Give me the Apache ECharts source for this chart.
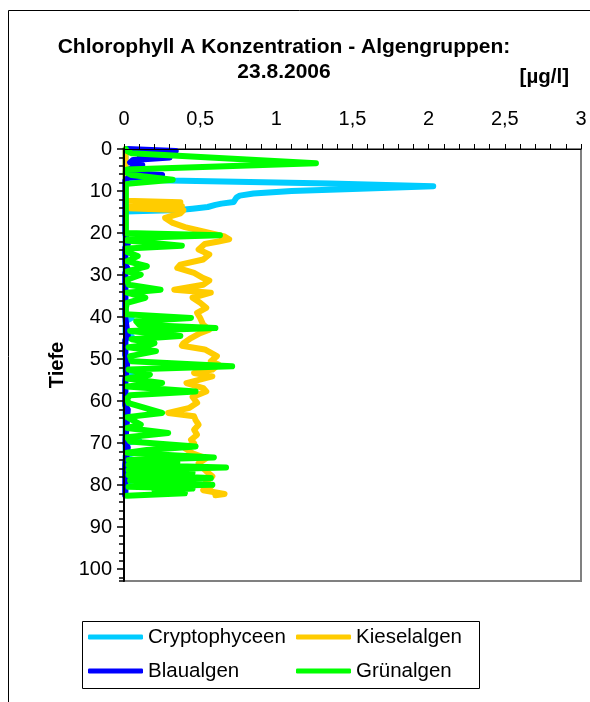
<!DOCTYPE html>
<html>
<head>
<meta charset="utf-8">
<script src="https://cdn.jsdelivr.net/npm/echarts@6/dist/echarts.min.js"></script>
<style>html,body{margin:0;padding:0;background:#fff;}#c{width:590px;height:702px;}</style>
</head>
<body>
<div id="c"></div>
<script>
// ---- Data (depth in m, concentration in µg/l) ----
var seriesNames = ['Cryptophyceen', 'Kieselalgen', 'Blaualgen', 'Grünalgen'];
var xTickLabels = ['0', '0,5', '1', '1,5', '2', '2,5', '3'];
var yTickLabels = ['0', '10', '20', '30', '40', '50', '60', '70', '80', '90', '100'];

var cryptoDepth = [0, 3, 6, 7.0, 7.5, 8.2, 8.85, 9.5, 10.0, 10.6, 11.1, 11.5, 12.0, 12.6, 13.0, 13.3, 13.8, 14.2, 14.5, 14.9, 16, 25, 39.5, 40.2, 41, 44, 44.6, 45.3, 53, 53.6, 54.2, 69, 69.4, 70, 72, 72.4, 73, 78.2, 78.6, 79.2, 82.4];
var cryptoVal   = [0.01, 0.01, 0.01, 0.01, 0.3, 1.35, 2.03, 1.5, 1.1, 0.85, 0.76, 0.74, 0.73, 0.72, 0.64, 0.6, 0.55, 0.45, 0.36, 0.01, 0.01, 0.01, 0.01, 0.05, 0.01, 0.01, 0.05, 0.01, 0.01, 0.06, 0.01, 0.01, 0.1, 0.01, 0.01, 0.06, 0.01, 0.01, 0.1, 0.01, 0.01];

var kieselDepth = [0, 5, 10, 12.3, 12.7, 13.1, 13.6, 14.1, 14.6, 15.3, 16.4, 17.6, 18.6, 19.6, 20.8, 21.5, 22.0, 22.6, 23.9, 25.1, 26.3, 27.5, 28.3, 29.5, 30.7, 31.3, 32.3, 33.5, 34.2, 35.4, 36.6, 37.8, 39.0, 40.2, 41.8, 43.0, 43.8, 45.0, 46.2, 46.8, 47.7, 49.3, 50.5, 51.3, 52.5, 53.3, 54.1, 55.7, 56.9, 57.7, 59.0, 60.4, 61.6, 62.8, 63.6, 64.5, 65.6, 66.8, 68.0, 69.2, 70.0, 71.2, 72.4, 73.6, 74.8, 76.0, 77.0, 77.9, 79.1, 80.3, 81.2, 82.1, 82.4];
var kieselVal   = [0.01, 0.01, 0.01, 0.01, 0.37, 0.03, 0.38, 0.03, 0.39, 0.37, 0.27, 0.32, 0.40, 0.52, 0.66, 0.69, 0.62, 0.53, 0.49, 0.56, 0.52, 0.37, 0.35, 0.46, 0.52, 0.56, 0.52, 0.33, 0.57, 0.45, 0.50, 0.54, 0.48, 0.50, 0.52, 0.56, 0.50, 0.44, 0.39, 0.38, 0.53, 0.61, 0.57, 0.62, 0.58, 0.46, 0.58, 0.41, 0.52, 0.54, 0.45, 0.48, 0.43, 0.29, 0.46, 0.47, 0.49, 0.46, 0.48, 0.44, 0.46, 0.40, 0.45, 0.54, 0.49, 0.52, 0.55, 0.58, 0.54, 0.57, 0.52, 0.66, 0.60];

var blauDepth = [0, 0.5, 1.3, 2.0, 2.6, 3.2, 3.8, 4.4, 5.2, 5.7, 6.2, 6.8, 7.5, 10, 20, 22.6, 23.5, 27.5, 28.5, 29.5, 40, 44.5, 45.5, 49, 50, 55, 61, 62, 70, 71, 75, 80, 82.4];
var blauVal   = [0.02, 0.34, 0.1, 0.30, 0.06, 0.04, 0.12, 0.06, 0.02, 0.04, 0.25, 0.03, 0.008, 0.008, 0.008, 0.025, 0.008, 0.008, 0.025, 0.008, 0.008, 0.025, 0.008, 0.008, 0.025, 0.008, 0.008, 0.025, 0.008, 0.025, 0.008, 0.008, 0.008];

var gruenDepth = [0, 0.5, 1.0, 3.4, 4.9, 5.5, 6.2, 7.3, 8.3, 9, 12, 15, 18, 20.0, 20.5, 21.2, 21.8, 23.0, 23.7, 24.5, 25.5, 26.7, 27.9, 29.1, 29.9, 31.1, 32.3, 33.5, 34.2, 35.4, 36.6, 37.8, 39.3, 40.2, 41.0, 41.8, 42.6, 43.3, 44.5, 45.3, 46.2, 46.6, 47.2, 48.1, 49.3, 50.5, 51.7, 52.5, 53.7, 54.6, 55.7, 56.5, 57.7, 58.6, 59.4, 60.5, 62.8, 63.8, 65.6, 66.4, 67.6, 68.6, 69.6, 70.8, 71.6, 72.3, 73.4, 74.0, 74.6, 75.2, 75.8, 76.4, 77.0, 77.6, 78.3, 78.9, 79.4, 79.9, 80.4, 80.8, 81.3, 81.9, 82.5];
var gruenVal   = [0.012, 0.02, 0.05, 1.26, 0.02, 0.012, 0.05, 0.32, 0.02, 0.012, 0.012, 0.012, 0.012, 0.012, 0.63, 0.03, 0.02, 0.38, 0.02, 0.02, 0.09, 0.02, 0.15, 0.02, 0.11, 0.02, 0.03, 0.24, 0.02, 0.14, 0.02, 0.012, 0.012, 0.44, 0.08, 0.10, 0.60, 0.04, 0.37, 0.05, 0.20, 0.17, 0.03, 0.21, 0.04, 0.05, 0.71, 0.03, 0.17, 0.02, 0.25, 0.02, 0.47, 0.04, 0.02, 0.03, 0.25, 0.02, 0.11, 0.02, 0.29, 0.02, 0.04, 0.47, 0.15, 0.02, 0.59, 0.03, 0.35, 0.03, 0.67, 0.03, 0.45, 0.03, 0.57, 0.04, 0.30, 0.58, 0.03, 0.45, 0.20, 0.40, 0.02];

var seriesColors = ['#00CCFF', '#FFCC00', '#0000FF', '#00FF00'];

function zip(vals, depths) {
  var out = [];
  for (var i = 0; i < vals.length; i++) out.push([vals[i], depths[i]]);
  return out;
}

var FONT = '"Liberation Sans", Arial, sans-serif';
var chart = echarts.init(document.getElementById('c'), null, {renderer: 'canvas'});

var seriesData = [zip(cryptoVal, cryptoDepth), zip(kieselVal, kieselDepth), zip(blauVal, blauDepth), zip(gruenVal, gruenDepth)];
var series = seriesNames.map(function (n, i) {
  return {
    name: n, type: 'line', data: seriesData[i], xAxisIndex: 0, yAxisIndex: 0,
    showSymbol: false, symbol: 'none', smooth: false,
    lineStyle: {color: seriesColors[i], width: 6, cap: 'round', join: 'round'},
    itemStyle: {color: seriesColors[i]},
    emphasis: {disabled: true}, animation: false, z: 2 + i
  };
});

var legendCommon = {
  orient: 'vertical', icon: 'roundRect', itemWidth: 55, itemHeight: 5, itemGap: 10, padding: 0,
  selectedMode: false,
  textStyle: {fontFamily: FONT, fontSize: 20.5, color: '#000', lineHeight: 24}
};

var option = {
  animation: false,
  backgroundColor: '#fff',
  title: [
    {text: 'Chlorophyll A Konzentration - Algengruppen:\n23.8.2006', left: 284, top: 35, textAlign: 'center', padding: 0,
     textStyle: {fontFamily: FONT, fontSize: 21, fontWeight: 'bold', color: '#000', lineHeight: 25}},
    {text: '[µg/l]', right: 21, top: 65, padding: 0,
     textStyle: {fontFamily: FONT, fontSize: 20.5, fontWeight: 'bold', color: '#000', lineHeight: 24}}
  ],
  legend: [
    Object.assign({}, legendCommon, {data: [seriesNames[0], seriesNames[2]], left: 88, top: 625}),
    Object.assign({}, legendCommon, {data: [seriesNames[1], seriesNames[3]], left: 296, top: 625})
  ],
  grid: {left: 124, top: 149, width: 457, height: 432, show: true, borderColor: '#808080', borderWidth: 2, backgroundColor: 'transparent'},
  xAxis: {
    type: 'value', position: 'top', min: 0, max: 3, interval: 0.5, z: 20,
    axisLine: {show: true, lineStyle: {color: '#000', width: 1}},
    axisTick: {show: true, length: 5, lineStyle: {color: '#000'}},
    minorTick: {show: true, splitNumber: 5, length: 5, lineStyle: {color: '#000'}},
    splitLine: {show: false}, minorSplitLine: {show: false},
    axisLabel: {fontFamily: FONT, fontSize: 20, color: '#000', margin: 20,
      formatter: function (v) { return xTickLabels[Math.round(v / 0.5)]; }}
  },
  yAxis: [
    {
      type: 'value', inverse: true, min: 0, max: 102.8, interval: 10, z: 20,
      name: 'Tiefe', nameLocation: 'middle', nameGap: 55, nameRotate: 90,
      nameTextStyle: {fontFamily: FONT, fontSize: 20, fontWeight: 'bold', color: '#000'},
      axisLine: {show: true, lineStyle: {color: '#000', width: 2}},
      axisTick: {show: true, length: 7, lineStyle: {color: '#000', width: 1.5}},
      splitLine: {show: false},
      axisLabel: {fontFamily: FONT, fontSize: 20, color: '#000', margin: 12, showMaxLabel: false,
        formatter: function (v) { var k = Math.round(v / 10); return (Math.abs(v - k * 10) < 1e-6 && yTickLabels[k] !== undefined) ? yTickLabels[k] : ''; }}
    },
    {
      type: 'value', inverse: true, min: 0, max: 102.8, interval: 2, position: 'left', gridIndex: 0, z: 20,
      axisLine: {show: false}, axisLabel: {show: false}, splitLine: {show: false},
      axisTick: {show: true, length: 5, lineStyle: {color: '#000', width: 1.5}}
    }
  ],
  graphic: [
    {type: 'rect', shape: {x: 8.5, y: 10.5, width: 700, height: 800}, style: {fill: 'none', stroke: '#000', lineWidth: 1}, silent: true, z: -10},
    {type: 'rect', shape: {x: 82.5, y: 621.5, width: 397, height: 67}, style: {fill: 'none', stroke: '#000', lineWidth: 1}, silent: true, z: -5}
  ],
  series: series
};
chart.setOption(option);
</script>
</body>
</html>
